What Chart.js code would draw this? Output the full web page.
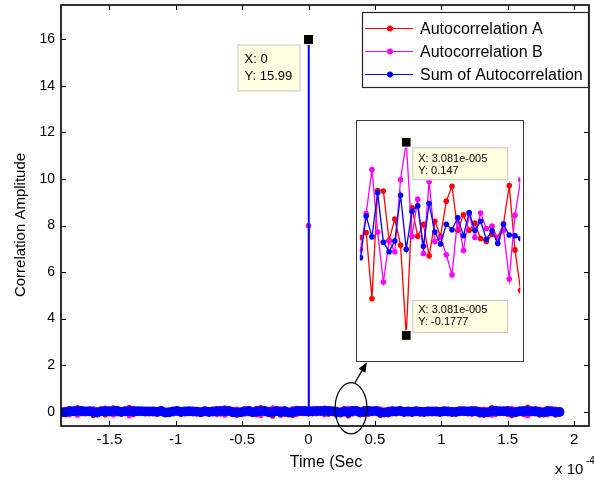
<!DOCTYPE html>
<html lang="en">
<head>
<meta charset="UTF-8">
<title>Autocorrelation</title>
<script src="https://cdn.jsdelivr.net/npm/chart.js"></script>
<style>
  body { margin: 0; background: #fff; }
  #wrap { position: relative; width: 594px; height: 483px; }
  #main { position: absolute; left: 0; top: 0; }
  #insetBox { position: absolute; left: 356px; top: 120px; width: 166px; height: 240px; border: 1px solid #3a3a3a; background: #fff; }
  #inset { display: block; }
</style>
</head>
<body>
<div id="wrap">
  <canvas id="main" width="594" height="483"></canvas>
  <div id="insetBox"><canvas id="inset" width="166" height="240"></canvas></div>
</div>
<script>
// time axis in units of 1e-4 s
const timeE4 = [
  -1.86, -1.83, -1.80, -1.77, -1.74, -1.71, -1.68, -1.65, -1.62, -1.59,
  -1.56, -1.53, -1.50, -1.47, -1.44, -1.41, -1.38, -1.35, -1.32, -1.29, -1.26,
  -1.23, -1.20, -1.17, -1.14, -1.11, -1.08, -1.05, -1.02, -0.99,
  -0.96, -0.93, -0.90, -0.87, -0.84, -0.81, -0.78, -0.75, -0.72,
  -0.69, -0.66, -0.63, -0.60, -0.57, -0.54, -0.51, -0.48, -0.45, -0.42,
  -0.39, -0.36, -0.33, -0.30, -0.27, -0.24, -0.21, -0.18, -0.15, -0.12, -0.09, -0.06, -0.03,
  -0.003, 0, 0.003,
  0.03, 0.06, 0.09, 0.12, 0.15, 0.18, 0.21, 0.24, 0.27, 0.30,
  0.33, 0.36, 0.39, 0.42, 0.45, 0.48, 0.51, 0.54, 0.57, 0.60, 0.63, 0.66,
  0.69, 0.72, 0.75, 0.78, 0.81, 0.84, 0.87, 0.90, 0.93,
  0.96, 0.99, 1.02, 1.05, 1.08, 1.11, 1.14, 1.17, 1.20,
  1.23, 1.26, 1.29, 1.32, 1.35, 1.38, 1.41, 1.44, 1.47, 1.50, 1.53,
  1.56, 1.59, 1.62, 1.65, 1.68, 1.71, 1.74, 1.77, 1.80, 1.83, 1.86,
  1.89
];
const autoA = [
  0.06, -0.12, 0.15, -0.04, 0.18, -0.08, 0.03, -0.05, -0.16, 0.09,
  0.05, -0.14, 0.11, 0.17, -0.09, 0.04, -0.06, 0.19, -0.13, 0.08, -0.03,
  0.02, -0.01, 0.03, -0.02, 0.01, 0.00, -0.03, 0.02, 0.01,
  -0.02, 0.03, -0.01, 0.02, -0.02, 0.01, 0.04, -0.03, 0.02,
  0.14, -0.10, 0.17, -0.06, 0.09, -0.15, 0.05, 0.12, -0.08, 0.04,
  -0.13, 0.18, -0.05, 0.10, -0.19, 0.07, 0.13, -0.11, 0.06, -0.16, 0.15, -0.07, 0.11,
  0.02, 7.99, -0.01,
  -0.09, 0.12, -0.05, 0.16, -0.11, 0.07, -0.14, 0.04, 0.10, -0.178,
  0.13, -0.06, 0.08, -0.12, 0.15, -0.04, 0.09, -0.16, 0.06, 0.11, -0.08, 0.03,
  0.01, -0.02, 0.03, 0.00, -0.01, 0.02, -0.03, 0.01, 0.02,
  -0.02, 0.01, 0.03, -0.01, -0.02, 0.02, 0.00, 0.03, -0.02,
  0.13, -0.07, 0.10, -0.15, 0.06, 0.18, -0.11, 0.08, -0.05, 0.14, -0.17,
  0.09, 0.05, -0.12, 0.20, -0.08, 0.11, -0.14, 0.07, 0.15, -0.06, 0.12,
  0.01
];
const autoB = [
  -0.08, 0.10, -0.13, 0.06, -0.15, 0.11, -0.02, 0.07, 0.14, -0.12,
  -0.03, 0.16, -0.09, -0.14, 0.12, -0.05, 0.08, -0.17, 0.15, -0.06, 0.05,
  -0.01, 0.02, -0.02, 0.01, 0.02, -0.03, 0.01, -0.01, 0.02,
  0.01, -0.02, 0.03, -0.01, 0.02, -0.03, -0.02, 0.02, -0.01,
  -0.12, 0.13, -0.15, 0.09, -0.11, 0.12, -0.07, -0.10, 0.11, -0.06,
  0.15, -0.16, 0.08, -0.12, 0.17, -0.04, -0.15, 0.13, -0.09, 0.14, -0.12, 0.10, -0.08,
  -0.01, 8.00, 0.02,
  0.11, -0.09, 0.08, -0.13, 0.14, -0.05, 0.12, -0.07, -0.08, 0.147,
  -0.10, 0.09, -0.11, 0.14, -0.12, 0.06, -0.06, 0.13, -0.09, -0.13, 0.10, -0.02,
  0.02, 0.01, -0.02, -0.01, 0.03, -0.02, 0.02, 0.00, -0.01,
  0.03, -0.02, -0.01, 0.02, 0.01, -0.03, 0.02, -0.01, 0.03,
  -0.11, 0.09, -0.13, 0.12, -0.08, -0.15, 0.14, -0.06, 0.07, -0.12, 0.15,
  -0.11, -0.03, 0.14, -0.17, 0.10, -0.09, 0.12, -0.10, -0.13, 0.08, -0.14,
  -0.02
];
const autoSum = [
  -0.02, -0.02, 0.02, 0.02, 0.03, 0.03, 0.01, 0.02, -0.02, -0.03,
  0.02, 0.02, 0.02, 0.03, 0.03, -0.01, 0.02, 0.02, 0.02, 0.02, 0.02,
  0.01, 0.01, 0.01, -0.01, 0.03, -0.03, -0.02, 0.01, 0.03,
  -0.01, 0.01, 0.02, 0.01, 0.00, -0.02, 0.02, -0.01, 0.01,
  0.02, 0.03, 0.02, 0.03, -0.02, -0.03, -0.02, 0.02, 0.03, -0.02,
  0.02, 0.02, 0.03, -0.02, -0.02, 0.03, -0.02, 0.02, -0.03, -0.02, 0.03, 0.03, 0.03,
  0.01, 15.99, 0.01,
  0.02, 0.03, 0.03, 0.03, 0.03, 0.02, -0.02, -0.03, 0.02, -0.03,
  0.03, 0.03, -0.03, 0.02, 0.03, 0.02, 0.03, -0.03, -0.03, -0.02, 0.02, 0.01,
  0.03, -0.01, 0.01, -0.01, 0.02, 0.00, -0.01, 0.01, 0.01,
  0.01, -0.01, 0.02, 0.01, -0.01, -0.01, 0.02, 0.02, 0.01,
  0.02, 0.02, -0.03, -0.03, -0.02, 0.03, 0.03, 0.02, 0.02, 0.02, -0.02,
  -0.02, 0.02, 0.02, 0.03, 0.02, 0.02, -0.02, -0.03, 0.02, 0.02, -0.02,
  -0.01
];
const seriesNames = ['Autocorrelation A', 'Autocorrelation B', 'Sum of Autocorrelation'];
const xTicks = [-1.5, -1, -0.5, 0, 0.5, 1, 1.5, 2];
const yTicks = [0, 2, 4, 6, 8, 10, 12, 14, 16];

// zoomed inset (samples around t = 3.081e-5 s)
const insetIdx = [1, 2, 3, 4, 5, 6, 7, 8, 9, 10, 11, 12, 13, 14, 15, 16, 17, 18, 19, 20, 21, 22, 23, 24, 25, 26, 27, 28, 29];
const insetA = [-0.013, -0.005, -0.116, 0.066, 0.065, -0.018, 0.018, -0.026, -0.1777, 0.037,
  -0.011, 0.009, -0.044, 0.014, -0.011, 0.048, 0.073, -0.001, 0.025, -0.001,
  0.011, -0.015, -0.020, -0.008, -0.013, 0.010, 0.074, -0.034, -0.102];
const insetB = [-0.034, 0.027, 0.101, -0.004, -0.088, -0.019, -0.037, 0.084, 0.147, -0.011,
  0.051, -0.040, 0.081, -0.020, -0.013, -0.042, -0.076, 0.020, -0.035, 0.027,
  -0.013, 0.028, 0.002, 0.006, -0.015, -0.001, -0.083, 0.024, 0.084];
const insetSum = [-0.047, 0.023, -0.012, 0.062, -0.021, -0.037, -0.019, 0.058, -0.033, 0.031,
  0.040, -0.028, 0.044, -0.004, -0.024, 0.009, 0.000, 0.020, -0.010, 0.029,
  -0.001, 0.014, -0.016, -0.002, -0.023, 0.009, -0.009, -0.010, -0.015];

// data tips and the zoom marker (data units)
const peakTip = { x: 0, y: 15.99, label: ['X: 0', 'Y: 15.99'] };
const insetTipIdx = 9;
const insetTipX = '3.081e-005';
const zoomCircle = { t: 0.32, v: 0.15, dt: 0.12, dv: 1.1 };
const zoomArrow = { t0: 0.35, v0: 1.25, t1: 0.44, v1: 2.13 };

const RED = '#ff0000', MAG = '#ff00ff', BLUE = '#0000ff';
const FONT = '"Liberation Sans", Arial, Helvetica, sans-serif';

function pts(xs, ys) { return xs.map((x, i) => ({ x: x, y: ys[i] })); }
function line(label, color, data, order, r, w) {
  return { label: label, data: data, borderColor: color, backgroundColor: color, borderWidth: w,
    pointRadius: r, pointHoverRadius: r, pointBorderWidth: 0, order: order, tension: 0 };
}

function tipBox(ctx, x, y, w, h, lines, size, lh, padX, firstY) {
  ctx.save();
  ctx.fillStyle = '#ffffe1';
  ctx.strokeStyle = '#c8c8c8';
  ctx.lineWidth = 1;
  ctx.fillRect(x, y, w, h);
  ctx.strokeRect(x + 0.5, y + 0.5, w - 1, h - 1);
  ctx.fillStyle = '#000';
  ctx.font = size + 'px ' + FONT;
  ctx.textBaseline = 'middle';
  ctx.textAlign = 'left';
  lines.forEach((s, i) => ctx.fillText(s, x + padX, y + firstY + i * lh));
  ctx.restore();
}
function tipSquare(ctx, x, y) {
  ctx.save();
  ctx.fillStyle = '#000';
  ctx.fillRect(x - 4.5, y - 4.5, 9, 9);
  ctx.strokeStyle = '#ffffe1';
  ctx.lineWidth = 1;
  ctx.strokeRect(x - 5, y - 5, 10, 10);
  ctx.restore();
}

const mainDecor = {
  id: 'mainDecor',
  afterDatasetsDraw(chart) {
    const { ctx, chartArea: a, scales: { x, y } } = chart;
    ctx.save();
    // frame
    ctx.strokeStyle = '#000';
    ctx.lineWidth = 1.6;
    ctx.strokeRect(a.left, a.top, a.right - a.left, a.bottom - a.top);
    // inward ticks on all sides
    ctx.lineWidth = 1;
    ctx.beginPath();
    xTicks.forEach(v => {
      const px = Math.round(x.getPixelForValue(v)) + 0.5;
      ctx.moveTo(px, a.bottom); ctx.lineTo(px, a.bottom - 5);
      ctx.moveTo(px, a.top); ctx.lineTo(px, a.top + 5);
    });
    yTicks.forEach(v => {
      const py = Math.round(y.getPixelForValue(v)) + 0.5;
      ctx.moveTo(a.left, py); ctx.lineTo(a.left + 5, py);
      ctx.moveTo(a.right, py); ctx.lineTo(a.right - 5, py);
    });
    ctx.stroke();

    // zoom ellipse + arrow
    const cx = x.getPixelForValue(zoomCircle.t), cy = y.getPixelForValue(zoomCircle.v);
    const rx = x.getPixelForValue(zoomCircle.t + zoomCircle.dt) - cx;
    const ry = cy - y.getPixelForValue(zoomCircle.v + zoomCircle.dv);
    ctx.lineWidth = 1.2;
    ctx.beginPath();
    ctx.ellipse(cx, cy, rx, ry, 0, 0, Math.PI * 2);
    ctx.stroke();
    const ax0 = x.getPixelForValue(zoomArrow.t0), ay0 = y.getPixelForValue(zoomArrow.v0);
    const ax1 = x.getPixelForValue(zoomArrow.t1), ay1 = y.getPixelForValue(zoomArrow.v1);
    const ang = Math.atan2(ay1 - ay0, ax1 - ax0);
    ctx.beginPath();
    ctx.moveTo(ax0, ay0);
    ctx.lineTo(ax1 - 8 * Math.cos(ang), ay1 - 8 * Math.sin(ang));
    ctx.stroke();
    ctx.fillStyle = '#000';
    ctx.beginPath();
    ctx.moveTo(ax1, ay1);
    ctx.lineTo(ax1 - 10 * Math.cos(ang) + 4 * Math.sin(ang), ay1 - 10 * Math.sin(ang) - 4 * Math.cos(ang));
    ctx.lineTo(ax1 - 10 * Math.cos(ang) - 4 * Math.sin(ang), ay1 - 10 * Math.sin(ang) + 4 * Math.cos(ang));
    ctx.closePath();
    ctx.fill();

    // peak data tip
    const sx = x.getPixelForValue(peakTip.x), sy = y.getPixelForValue(peakTip.y);
    tipSquare(ctx, sx, sy);
    tipBox(ctx, sx - 71, sy + 5, 63, 47, peakTip.label, 13, 17.7, 7, 14.6);
    ctx.restore();
  },
  afterDraw(chart) {
    const { ctx, chartArea: a } = chart;
    ctx.save();
    // legend
    const lx = 362, ly = 12, lw = 226, lh = 75;
    ctx.fillStyle = '#fff';
    ctx.fillRect(lx, ly, lw, lh);
    ctx.strokeStyle = '#222';
    ctx.lineWidth = 1.2;
    ctx.strokeRect(lx + 0.5, ly + 0.5, lw, lh);
    ctx.font = '16px ' + FONT;
    ctx.textBaseline = 'middle';
    chart.data.datasets.forEach((ds, i) => {
      const ry = ly + 16.5 + i * 23;
      ctx.strokeStyle = ds.borderColor;
      ctx.lineWidth = 1;
      ctx.beginPath(); ctx.moveTo(lx + 3, ry); ctx.lineTo(lx + 51, ry); ctx.stroke();
      ctx.fillStyle = ds.borderColor;
      ctx.beginPath(); ctx.arc(lx + 28, ry, 3, 0, Math.PI * 2); ctx.fill();
      ctx.fillStyle = '#000';
      ctx.fillText(ds.label, lx + 58, ry + 1);
    });
    // axis titles
    ctx.fillStyle = '#000';
    ctx.font = '16px ' + FONT;
    ctx.textAlign = 'center';
    ctx.fillText('Time (Sec', (a.left + a.right) / 2 + 1, 463);
    ctx.font = '15px ' + FONT;
    ctx.save();
    ctx.translate(21, 225);
    ctx.rotate(-Math.PI / 2);
    ctx.fillText('Correlation Amplitude', 0, 0);
    ctx.restore();
    // exponent
    ctx.textAlign = 'left';
    ctx.font = '15px ' + FONT;
    ctx.fillText('x 10', 555, 470);
    ctx.font = '10px ' + FONT;
    ctx.fillText('-4', 586, 461);
    ctx.restore();
  }
};

new Chart(document.getElementById('main'), {
  type: 'line',
  data: {
    datasets: [
      line(seriesNames[0], RED, pts(timeE4, autoA), 2, 2.6, 1),
      line(seriesNames[1], MAG, pts(timeE4, autoB), 1, 2.6, 1),
      line(seriesNames[2], BLUE, pts(timeE4, autoSum), 0, 5, 2)
    ]
  },
  options: {
    responsive: false,
    animation: false,
    devicePixelRatio: 1,
    layout: { padding: { left: 0, top: 3, right: 3, bottom: 0 } },
    plugins: { legend: { display: false }, tooltip: { enabled: false } },
    scales: {
      x: {
        type: 'linear', min: -1.864, max: 2.112,
        grid: { display: false, drawTicks: false }, border: { display: false },
        afterBuildTicks: s => { s.ticks = xTicks.map(v => ({ value: v })); },
        afterFit: s => { s.height = 57; s.paddingLeft = 0; s.paddingRight = 0; },
        ticks: { color: '#000', font: { family: FONT, size: 15 }, padding: 5, maxRotation: 0, autoSkip: false, callback: v => String(v) }
      },
      y: {
        type: 'linear', min: -0.611, max: 17.47,
        grid: { display: false, drawTicks: false }, border: { display: false },
        afterBuildTicks: s => { s.ticks = yTicks.map(v => ({ value: v })); },
        afterFit: s => { s.width = 61; s.paddingTop = 0; s.paddingBottom = 0; },
        ticks: { color: '#000', font: { family: FONT, size: 14 }, padding: 6, autoSkip: false, callback: v => String(v) }
      }
    }
  },
  plugins: [mainDecor]
});

const insetDecor = {
  id: 'insetDecor',
  afterDatasetsDraw(chart) {
    const { ctx, scales: { x, y } } = chart;
    const sx = x.getPixelForValue(insetTipIdx);
    const syTop = y.getPixelForValue(insetB[insetTipIdx - 1]);
    const syBot = y.getPixelForValue(insetA[insetTipIdx - 1]);
    tipSquare(ctx, sx, syTop);
    tipSquare(ctx, sx, syBot);
    tipBox(ctx, sx + 6, syTop + 5, 96, 33, ['X: ' + insetTipX, 'Y: ' + insetB[insetTipIdx - 1]], 11, 12.2, 6, 11.5);
    tipBox(ctx, sx + 6, syBot - 35.5, 96, 33, ['X: ' + insetTipX, 'Y: ' + insetA[insetTipIdx - 1]], 11, 12.2, 6, 10);
  }
};

new Chart(document.getElementById('inset'), {
  type: 'line',
  data: {
    datasets: [
      line(seriesNames[0], RED, pts(insetIdx, insetA), 2, 2.8, 1.3),
      line(seriesNames[1], MAG, pts(insetIdx, insetB), 1, 2.8, 1.3),
      line(seriesNames[2], BLUE, pts(insetIdx, insetSum), 0, 2.8, 1.3)
    ]
  },
  options: {
    responsive: false,
    animation: false,
    devicePixelRatio: 1,
    layout: { padding: 0 },
    plugins: { legend: { display: false }, tooltip: { enabled: false } },
    scales: {
      x: { type: 'linear', min: 0.88, max: 28.92, display: false },
      y: { type: 'linear', min: -0.216, max: 0.178, display: false }
    }
  },
  plugins: [insetDecor]
});
</script>
</body>
</html>
